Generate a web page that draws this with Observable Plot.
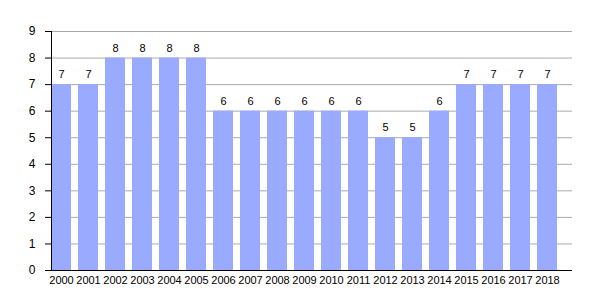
<!DOCTYPE html>
<html>
<head>
<meta charset="utf-8">
<script src="https://cdn.jsdelivr.net/npm/d3@7"></script>
<script src="https://cdn.jsdelivr.net/npm/@observablehq/plot@0.6"></script>
<style>
body { margin: 0; background: #fff; }
svg { font-family: "Liberation Sans", Arial, sans-serif; }
</style>
</head>
<body>
<div id="chart"></div>
<script>
const years = ["2000","2001","2002","2003","2004","2005","2006","2007","2008","2009","2010","2011","2012","2013","2014","2015","2016","2017","2018"];
const values = [7,7,8,8,8,8,6,6,6,6,6,6,5,5,6,7,7,7,7];
const yTicks = [0,1,2,3,4,5,6,7,8,9];

const data = years.map((y, i) => ({year: y, value: values[i]}));

const chart = Plot.plot({
  width: 600,
  height: 300,
  marginLeft: 51,
  marginRight: 28,
  marginTop: 31,
  marginBottom: 30,
  style: {fontSize: "11px", fontFamily: "Liberation Sans, Arial, sans-serif", color: "#000", background: "#fff"},
  x: {domain: years, range: [51, 570], paddingInner: 0.25, paddingOuter: 0, align: 0, label: null, tickSize: 0, tickPadding: 6},
  y: {domain: [0, 9], ticks: yTicks, label: null},
  marks: [
    Plot.gridY(yTicks, {stroke: "#aaa", strokeOpacity: 1, strokeWidth: 1}),
    Plot.barY(data, {x: "year", y: "value", fill: "#99aaff"}),
    Plot.text(data, {x: "year", y: "value", text: d => String(d.value), dy: -10, fill: "#000", fontSize: 11}),
    Plot.axisY({ticks: yTicks, tickSize: 6, tickPadding: 10, label: null, fontSize: 12}),
    Plot.frame({anchor: "left", stroke: "#000"}),
    Plot.ruleY([0], {stroke: "#000"})
  ]
});
document.getElementById("chart").appendChild(chart);
</script>
</body>
</html>
